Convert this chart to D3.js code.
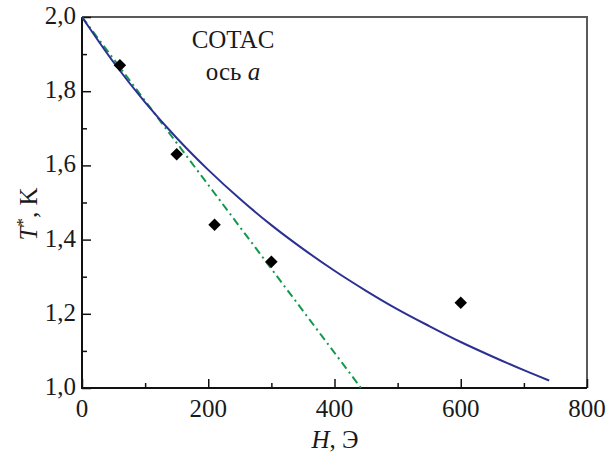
<!DOCTYPE html>
<html>
<head>
<meta charset="utf-8">
<script src="https://cdn.jsdelivr.net/npm/d3@7"></script>
<style>
  body { margin: 0; background: #fff; }
  text { font-family: "Liberation Serif", "Times New Roman", serif; fill: #1a1a1a; }
</style>
</head>
<body>
<svg id="chart" width="614" height="457"></svg>
<script>
// measured points
var fieldH = [60, 150, 210, 300, 600];
var tempT = [1.87, 1.63, 1.44, 1.34, 1.23];

// solid curve
var curveH = [0, 50, 100, 150, 200, 250, 300, 350, 400, 450, 500, 550, 600, 650, 700, 740];
var curveT = [2.0, 1.878, 1.77, 1.674, 1.588, 1.51, 1.439, 1.375, 1.316, 1.262, 1.212, 1.167, 1.124, 1.085, 1.048, 1.02];

// dash-dot straight line
var lineH = [0, 442];
var lineT = [2.0, 1.0];

var xTicks = [0, 200, 400, 600, 800];
var yTicks = [1.0, 1.2, 1.4, 1.6, 1.8, 2.0];

var svg = d3.select("#chart");
// note: "top" is taken by window.top, so use plot* names
var plotL = 82, plotR = 587, plotT = 17, plotB = 388;

var x = d3.scaleLinear().domain([0, 800]).range([plotL, plotR]);
var y = d3.scaleLinear().domain([1.0, 2.0]).range([plotB, plotT]);
var fmt = function(d){ return d3.format(".1f")(d).replace(".", ","); };

// frame: top and right in grey
svg.append("path")
  .attr("d", "M" + plotL + "," + plotT + "H" + plotR + "V" + plotB)
  .attr("fill", "none")
  .attr("stroke", "#5a5a5a")
  .attr("stroke-width", 2);

// axes, ticks pointing inside
var xAxis = svg.append("g")
  .attr("transform", "translate(0," + plotB + ")")
  .call(d3.axisTop(x).tickValues(d3.range(0, 801, 100)).tickSize(9).tickFormat(""));
xAxis.selectAll(".tick line")
  .attr("y2", function(d){ return d % 200 === 0 ? -9 : -5; });

var yAxis = svg.append("g")
  .attr("transform", "translate(" + plotL + ",0)")
  .call(d3.axisRight(y).tickValues(d3.range(10, 21).map(function(d){ return d / 10; })).tickSize(9).tickFormat(""));
yAxis.selectAll(".tick line")
  .attr("x2", function(d){ return Math.round(d * 10) % 2 === 0 ? 9 : 5; });

[xAxis, yAxis].forEach(function(g){
  g.select(".domain").remove();
  g.selectAll(".tick line").attr("stroke", "#111").attr("stroke-width", 1.5);
});

svg.append("path")
  .attr("d", "M" + plotL + "," + plotT + "V" + plotB + "H" + plotR)
  .attr("fill", "none")
  .attr("stroke", "#111")
  .attr("stroke-width", 2);

// tick labels
svg.append("g").selectAll("text")
  .data(xTicks)
  .enter().append("text")
  .attr("x", function(d){ return x(d); })
  .attr("y", 417)
  .attr("text-anchor", "middle")
  .style("font-size", "25px")
  .text(function(d){ return d; });

svg.append("g").selectAll("text")
  .data(yTicks)
  .enter().append("text")
  .attr("x", 76)
  .attr("y", function(d){ return y(d) + 7; })
  .attr("text-anchor", "end")
  .style("font-size", "25px")
  .text(fmt);

// dash-dot line
svg.append("path")
  .datum(d3.zip(lineH, lineT))
  .attr("d", d3.line().x(function(d){ return x(d[0]); }).y(function(d){ return y(d[1]); }))
  .attr("fill", "none")
  .attr("stroke", "#12984a")
  .attr("stroke-width", 2)
  .attr("stroke-dasharray", "8,4,2,4");

// solid curve
svg.append("path")
  .datum(d3.zip(curveH, curveT))
  .attr("d", d3.line().curve(d3.curveMonotoneX)
    .x(function(d){ return x(d[0]); }).y(function(d){ return y(d[1]); }))
  .attr("fill", "none")
  .attr("stroke", "#2b3192")
  .attr("stroke-width", 2);

// diamonds
svg.append("g").selectAll("path")
  .data(d3.zip(fieldH, tempT))
  .enter().append("path")
  .attr("d", d3.symbol().type(d3.symbolSquare).size(78))
  .attr("transform", function(d){
    return "translate(" + x(d[0]) + "," + y(d[1]) + ") rotate(45)";
  })
  .attr("fill", "#000");

// annotation
svg.append("text")
  .attr("x", 233)
  .attr("y", 48)
  .attr("text-anchor", "middle")
  .style("font-size", "25px")
  .text("COTAC");

var lab = svg.append("text")
  .attr("x", 233)
  .attr("y", 80)
  .attr("text-anchor", "middle")
  .style("font-size", "25px");
lab.append("tspan").text("ось ");
lab.append("tspan").style("font-style", "italic").text("a");

// axis titles
var xt = svg.append("text")
  .attr("x", 335)
  .attr("y", 448)
  .attr("text-anchor", "middle")
  .style("font-size", "25px");
xt.append("tspan").style("font-style", "italic").text("H");
xt.append("tspan").text(", Э");

var yt = svg.append("text")
  .attr("transform", "translate(37,214) rotate(-90)")
  .attr("text-anchor", "middle")
  .style("font-size", "25px");
yt.append("tspan").style("font-style", "italic").text("T");
yt.append("tspan").attr("dy", -9).style("font-size", "17px").text("*");
yt.append("tspan").attr("dy", 9).text(", K");
</script>
</body>
</html>
